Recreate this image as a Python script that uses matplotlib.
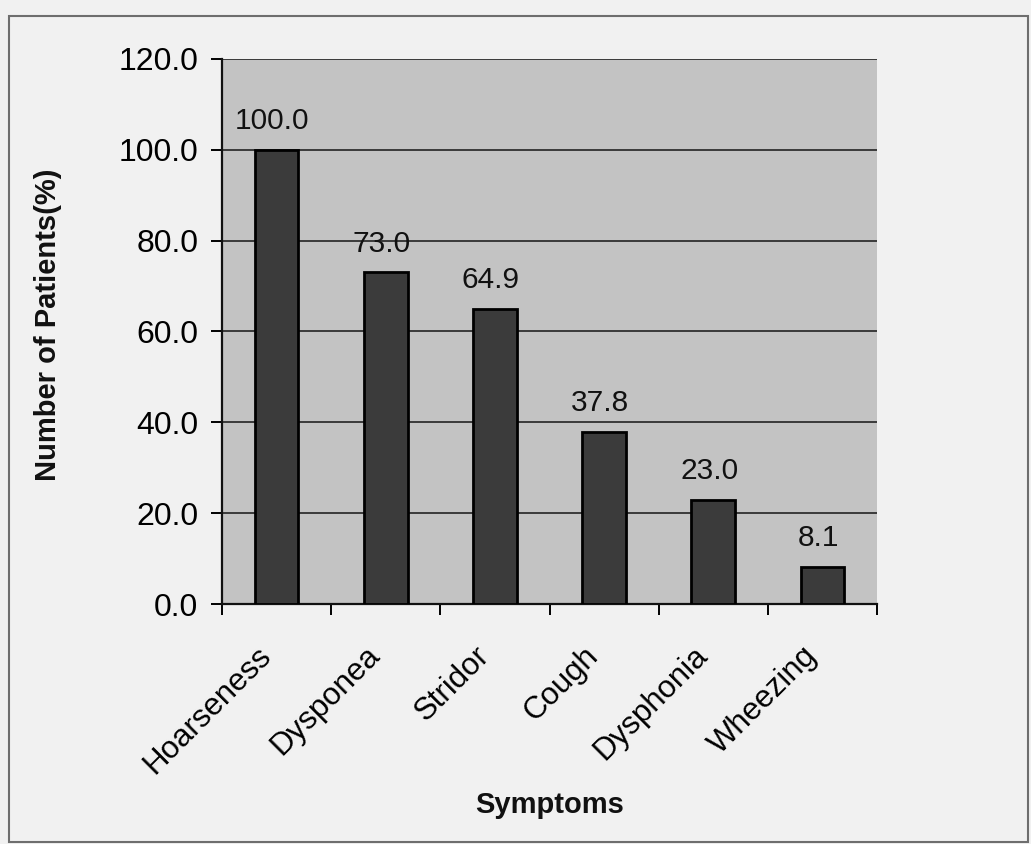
#!/usr/bin/env python3
"""Bar chart: share of patients presenting each symptom."""

import matplotlib as mpl
import matplotlib.pyplot as plt
from matplotlib.patches import Rectangle

symptoms = ["Hoarseness", "Dysponea", "Stridor", "Cough", "Dysphonia", "Wheezing"]
percent = [100.0, 73.0, 64.9, 37.8, 23.0, 8.1]
y_ticks = [0, 20, 40, 60, 80, 100, 120]

C_FIG = "#f1f1f1"
C_PLOT = "#c3c3c3"
C_BAR = "#3b3b3b"
C_GRID = "#3a3a3a"

mpl.rcParams.update({
    "font.family": ["Liberation Sans", "DejaVu Sans"],
    "text.color": "#111111",
})

W, H = 1031, 844
fig = plt.figure(figsize=(W / 100, H / 100), dpi=100, facecolor=C_FIG)

# plot area in pixel terms: x 222..877, y 59..604
ax = fig.add_axes([222 / W, 1 - 604 / H, 655 / W, 545 / H])
ax.set_facecolor(C_PLOT)

x = list(range(len(symptoms)))
ax.bar(x, percent, width=0.4, color=C_BAR, edgecolor="black",
       linewidth=2.0, zorder=3)

for xi, v in zip(x, percent):
    ax.annotate(f"{v:.1f}", (xi, v), xytext=(-3, 15), textcoords="offset points",
                ha="center", va="baseline", fontsize=21.5, zorder=4)

ax.set_xlim(-0.5, len(symptoms) - 0.5)
ax.set_ylim(0, 120)
ax.set_yticks(y_ticks)
ax.set_yticklabels([f"{t:.1f}" for t in y_ticks], fontsize=23)
ax.yaxis.grid(True, color=C_GRID, linewidth=1.4, zorder=1)
ax.set_axisbelow(True)

# category labels at centres, tick marks on the category boundaries
ax.set_xticks(x)
ax.set_xticklabels(symptoms, fontsize=22.5, rotation=45, ha="right",
                   va="center", rotation_mode="anchor")
ax.set_xticks([i - 0.5 for i in range(len(symptoms) + 1)], minor=True)
ax.tick_params(axis="x", which="major", length=0, pad=34)
ax.tick_params(axis="x", which="minor", length=8, width=1.4, direction="out")
ax.tick_params(axis="y", length=8, width=1.4, pad=9)
for lbl in ax.get_xticklabels():
    lbl.set_transform(lbl.get_transform()
                      + mpl.transforms.ScaledTranslation(-10 / 100, 0, fig.dpi_scale_trans))

for side in ("top", "right"):
    ax.spines[side].set_visible(False)
for side in ("left", "bottom"):
    ax.spines[side].set_linewidth(1.6)
    ax.spines[side].set_color("#111111")

fig.text(48 / W, 1 - 325 / H, "Number of Patients(%)", rotation=90,
         ha="center", va="center", fontsize=21, fontweight="bold")
fig.text(550 / W, 1 - 805 / H, "Symptoms", ha="center", va="center",
         fontsize=21, fontweight="bold")

# thin frame round the whole chart
fig.patches.append(Rectangle((9 / W, 1 - 842 / H), 1019 / W, 826 / H,
                             transform=fig.transFigure, fill=False,
                             edgecolor="#6e6e6e", linewidth=1.5))

fig.savefig("out.png", dpi=100, facecolor=C_FIG)
